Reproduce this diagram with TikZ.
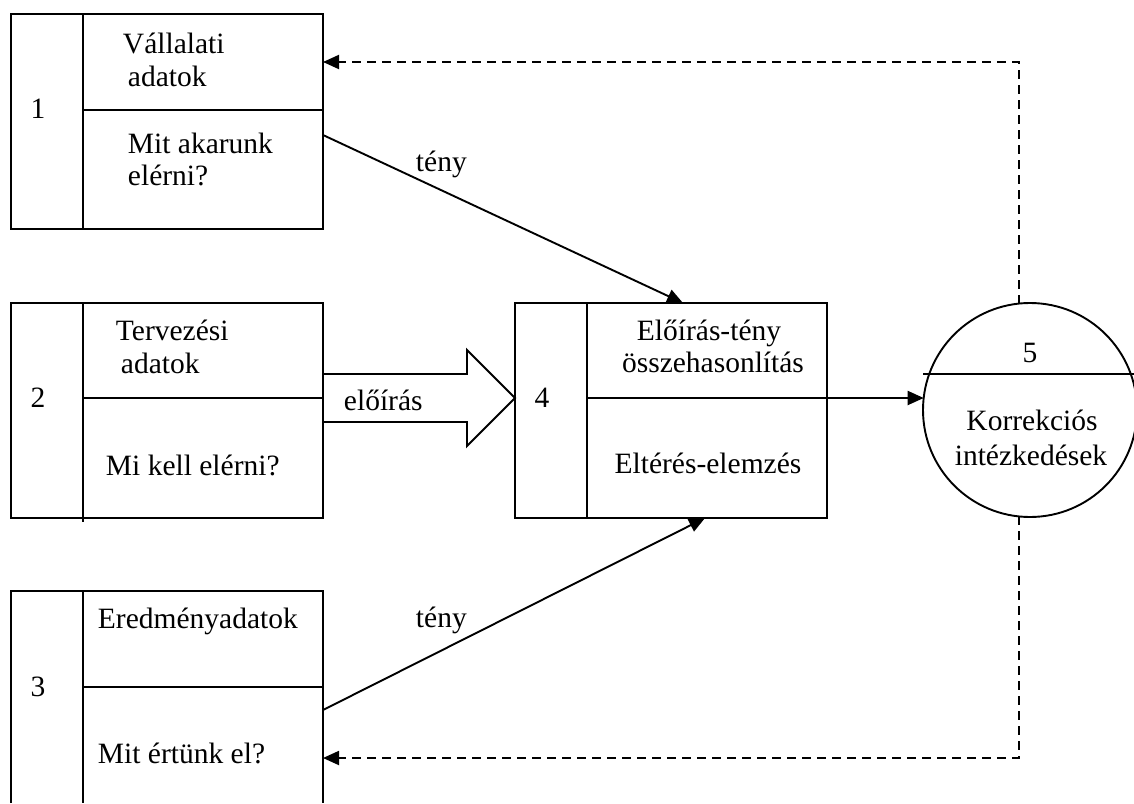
\documentclass[tikz,border=0pt]{standalone}
\usepackage{fontspec}
\setmainfont{Liberation Serif}
\usetikzlibrary{arrows.meta}
\begin{document}
\begin{tikzpicture}[x=1pt,y=-1pt,
  line width=1.9pt,
  lbl/.style={anchor=base west,inner sep=0pt,font=\fontsize{29.5}{34}\selectfont},
  lblc/.style={anchor=base,inner sep=0pt,font=\fontsize{29.5}{34}\selectfont},
  flow/.style={-{Triangle[length=16pt,width=14pt]},line width=1.9pt},
  feedback/.style={flow,dash pattern=on 9pt off 6pt}]
\useasboundingbox (0,0) rectangle (1134,803);

% --- box 1: company data
\draw (11,14) rectangle (323,229);
\draw (83,14) -- (83,229);
\draw (83,110) -- (323,110);
\node[lblc] (n1) at (38,118) {1};
\node[lbl] (t1a) at (122,53) {Vállalati};
\node[lbl] (t1b) at (127,86) {adatok};
\node[lbl] (t1c) at (127,153) {Mit akarunk};
\node[lbl] (t1d) at (127,185) {elérni?};

% --- box 2: planning data
\draw (11,303) rectangle (323,518);
\draw (83,303) -- (83,522);
\draw (83,398) -- (323,398);
\node[lblc] (n2) at (38,407) {2};
\node[lbl] (t2a) at (115,340) {Tervezési};
\node[lbl] (t2b) at (120,373) {adatok};
\node[lbl] (t2c) at (105,475) {Mi kell elérni?};

% --- box 3: result data (runs off the bottom edge)
\draw (11,803) -- (11,591) -- (323,591) -- (323,803);
\draw (83,591) -- (83,803);
\draw (83,687) -- (323,687);
\node[lblc] (n3) at (38,696) {3};
\node[lbl] (t3a) at (97,628) {Eredményadatok};
\node[lbl] (t3b) at (97,763) {Mit értünk el?};

% --- box 4: comparison
\draw (515,303) rectangle (827,518);
\draw (587,303) -- (587,518);
\draw (587,398) -- (827,398);
\node[lblc] (n4) at (542,407) {4};
\node[lblc] (t4a) at (709,340) {Előírás-tény};
\node[lblc] (t4b) at (713,372) {összehasonlítás};
\node[lblc] (t4c) at (708,473) {Eltérés-elemzés};

% --- circle 5: corrective actions
\draw (1030,410) circle[radius=107];
\draw (923,374) -- (1134,374);
\node[lblc] (n5) at (1030,362) {5};
\node[lblc] (t5a) at (1032,430) {Korrekciós};
\node[lblc] (t5b) at (1031,465) {intézkedések};

% --- connector end points
\coordinate (b1out) at (323,135);
\coordinate (b4topin) at (683,303);
\coordinate (b3out) at (323,710);
\coordinate (b4botin) at (705,518);
\coordinate (b4out) at (827,398);
\coordinate (c5in) at (923.7,398);
\coordinate (c5top) at (1019,303.6);
\coordinate (c5bot) at (1019,516.4);
\coordinate (fbtop) at (1019,62);
\coordinate (fbbot) at (1019,758);
\coordinate (b1in) at (323,62);
\coordinate (b3in) at (323,758);

% --- fact flows
\draw[flow] (b1out) -- (b4topin);
\node[lbl] (f1) at (415,171) {tény};
\draw[flow] (b3out) -- (b4botin);
\node[lbl] (f2) at (415,627) {tény};

% --- prescription: hollow block arrow
\draw[line join=miter]
  (323,374) -- (467,374) -- (467,350) -- (515,398) -- (467,446) -- (467,422) -- (323,422);
\node[lbl] (pr) at (343,410) {előírás};

% --- comparison to corrective actions
\draw[flow] (b4out) -- (c5in);

% --- feedback loops
\draw[feedback] (c5top) -- (fbtop) -- (b1in);
\draw[feedback] (c5bot) -- (fbbot) -- (b3in);
\end{tikzpicture}
\end{document}
